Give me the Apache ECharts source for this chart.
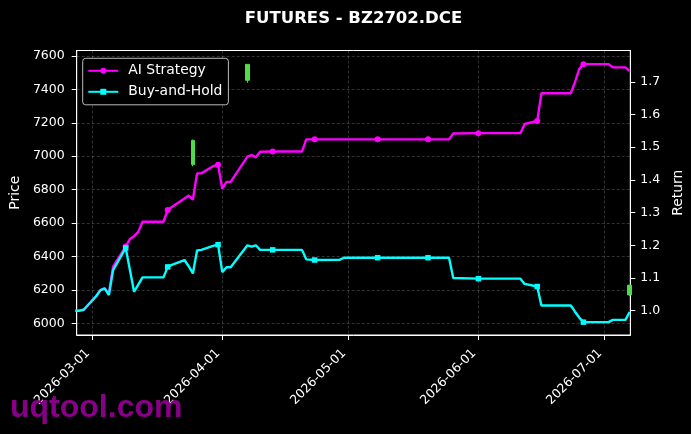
<!DOCTYPE html>
<html><head><meta charset="utf-8">
<script src="https://cdn.jsdelivr.net/npm/echarts@6/dist/echarts.min.js"></script>
<style>html,body{margin:0;padding:0;background:#000;}#c{width:691px;height:434px;}</style>
</head><body><div id="c"></div>
<script>
// ---- data ----
const dates = ['2026-02-25','2026-02-26','2026-02-27','2026-03-02','2026-03-03','2026-03-04','2026-03-05','2026-03-06',
  '2026-03-09','2026-03-10','2026-03-11','2026-03-12','2026-03-13','2026-03-18','2026-03-19','2026-03-20',
  '2026-03-23','2026-03-24','2026-03-25','2026-03-26','2026-03-27','2026-03-30','2026-03-31',
  '2026-04-01','2026-04-02','2026-04-03','2026-04-07','2026-04-08','2026-04-09','2026-04-10','2026-04-13',
  '2026-04-20','2026-04-21','2026-04-23','2026-04-29','2026-04-30','2026-05-08','2026-05-20','2026-05-25',
  '2026-05-26','2026-06-01','2026-06-11','2026-06-12','2026-06-15','2026-06-16','2026-06-23','2026-06-24',
  '2026-06-25','2026-06-26','2026-07-02','2026-07-03','2026-07-06','2026-07-07'];
const aiStrategy = [1.000,1.000,1.003,1.045,1.063,1.068,1.053,1.135,
  1.196,1.219,1.228,1.241,1.272,1.272,1.308,1.317,
  1.343,1.352,1.340,1.420,1.420,1.443,1.446,
  1.373,1.394,1.394,1.471,1.476,1.469,1.486,1.487,
  1.487,1.524,1.524,1.524,1.524,1.524,1.524,1.524,
  1.542,1.543,1.543,1.571,1.580,1.665,1.665,1.699,
  1.739,1.754,1.754,1.744,1.744,1.733];
const buyAndHold = [1.000,1.000,1.003,1.045,1.063,1.068,1.048,1.124,
  1.192,1.125,1.058,1.080,1.102,1.102,1.134,1.140,
  1.155,1.136,1.114,1.184,1.186,1.199,1.202,
  1.118,1.133,1.133,1.200,1.196,1.200,1.186,1.186,
  1.186,1.157,1.155,1.156,1.162,1.162,1.162,1.162,
  1.100,1.098,1.098,1.082,1.074,1.016,1.016,0.997,
  0.979,0.965,0.965,0.972,0.972,0.996];
const markerDates = ['2026-02-25','2026-03-09','2026-03-19','2026-03-31','2026-04-13','2026-04-23',
  '2026-05-08','2026-05-20','2026-06-01','2026-06-15','2026-06-26'];
const candleDates = ['2026-03-25','2026-04-07','2026-07-07'];
const candleOpen  = [6950, 7455, 6170];
const candleClose = [7095, 7550, 6228];
const candleLow   = [6940, 7440, 6165];
const candleHigh  = [7100, 7552, 6230];
const priceTicks = [6000,6200,6400,6600,6800,7000,7200,7400,7600];
const returnTicks = [1.0,1.1,1.2,1.3,1.4,1.5,1.6,1.7];
const monthTicks = ['2026-03-01','2026-04-01','2026-05-01','2026-06-01','2026-07-01'];

// ---- helpers ----
function ts(s){ const p = s.split('-').map(Number); return new Date(p[0], p[1]-1, p[2]).getTime(); }
function fmt(v){ const d = new Date(v); const z = n => (n<10?'0':'')+n; return d.getFullYear()+'-'+z(d.getMonth()+1)+'-'+z(d.getDate()); }
const markSet = new Set(markerDates);
function lineData(vals, sym){
  return dates.map((d,i) => ({ value: [ts(d), vals[i]], symbol: markSet.has(d) ? sym : 'none' }));
}
const candleData = candleDates.map((d,i) => [ts(d), candleOpen[i], candleClose[i], candleLow[i], candleHigh[i]]);

const FONT = 'DejaVu Sans';
const gridLine = { show: true, lineStyle: { color: 'rgba(255,255,255,0.28)', width: 0.7, type: [3, 2] } };
const chart = echarts.init(document.getElementById('c'), null, { renderer: 'canvas' });
chart.setOption({
  backgroundColor: '#000',
  animation: false,
  textStyle: { fontFamily: FONT },
  title: { text: 'FUTURES - BZ2702.DCE', left: 348.5, textAlign: 'center', top: 5,
    textStyle: { color: '#fff', fontSize: 16.5, fontWeight: 'bold', fontFamily: FONT } },
  grid: { left: 76.7, right: 60.7, top: 50.5, bottom: 99, show: true, borderColor: '#fff', borderWidth: 1,
    backgroundColor: 'transparent', containLabel: false, outerBoundsMode: 'none' },
  legend: {
    orient: 'vertical', left: 82.7, top: 58.3, padding: [5.5, 6, 6, 4.6], itemGap: 7,
    itemWidth: 30, itemHeight: 7.5,
    backgroundColor: '#000', borderColor: 'rgba(220,220,220,0.85)', borderWidth: 1, borderRadius: 3,
    textStyle: { color: '#fff', fontSize: 13.9, fontFamily: FONT, padding: [0, 0, 0, 5] },
    data: ['AI Strategy', 'Buy-and-Hold']
  },
  xAxis: {
    type: 'value', min: new Date(2026,1,25,8).getTime(), max: new Date(2026,6,7,4).getTime(),
    axisLine: { lineStyle: { color: '#fff' } },
    axisTick: { show: true, length: 5, lineStyle: { color: '#fff' }, customValues: monthTicks.map(ts) },
    axisLabel: { color: '#fff', fontSize: 12.5, fontFamily: FONT, rotate: 45, margin: 12, padding: [0, 6, 0, 0],
      customValues: monthTicks.map(ts), formatter: v => fmt(v) },
    splitLine: gridLine
  },
  yAxis: [
    { type: 'value', min: 5930, max: 7633, position: 'left',
      name: 'Price', nameLocation: 'middle', nameGap: 45, nameRotate: 90,
      nameTextStyle: { color: '#fff', fontSize: 13.9, fontFamily: FONT },
      axisLine: { show: true, lineStyle: { color: '#fff' } },
      axisTick: { show: true, length: 5, lineStyle: { color: '#fff' }, customValues: priceTicks },
      axisLabel: { color: '#fff', fontSize: 12.5, fontFamily: FONT, margin: 12, customValues: priceTicks,
        formatter: v => String(v) },
      splitLine: gridLine },
    { type: 'value', min: 0.9257, max: 1.7957, position: 'right',
      name: 'Return', nameLocation: 'middle', nameGap: 33, nameRotate: 90,
      nameTextStyle: { color: '#fff', fontSize: 13.9, fontFamily: FONT },
      axisLine: { show: true, lineStyle: { color: '#fff' } },
      axisTick: { show: true, length: 5, lineStyle: { color: '#fff' }, customValues: returnTicks },
      axisLabel: { color: '#fff', fontSize: 12.5, fontFamily: FONT, margin: 10, customValues: returnTicks,
        formatter: v => v.toFixed(1) },
      splitLine: { show: false } }
  ],
  series: [
    { name: 'Price', type: 'candlestick', yAxisIndex: 0, barWidth: 4, data: candleData,
      itemStyle: { color: '#4cdc4c', color0: '#4cdc4c', borderColor: '#4cdc4c', borderColor0: '#4cdc4c', borderWidth: 1 },
      emphasis: { disabled: true }, silent: true },
    { name: 'AI Strategy', type: 'line', yAxisIndex: 1, data: lineData(aiStrategy, 'circle'),
      symbol: 'circle', showSymbol: true, symbolSize: 6, color: '#ff00ff',
      lineStyle: { color: '#ff00ff', width: 2.4 }, itemStyle: { color: '#ff00ff' },
      emphasis: { disabled: true }, silent: true },
    { name: 'Buy-and-Hold', type: 'line', yAxisIndex: 1, data: lineData(buyAndHold, 'rect'),
      symbol: 'rect', showSymbol: true, symbolSize: 5.5, color: '#00ffff',
      lineStyle: { color: '#00ffff', width: 2.4 }, itemStyle: { color: '#00ffff' },
      emphasis: { disabled: true }, silent: true }
  ],
  graphic: [
    { type: 'text', left: 10, top: 392, z: 100,
      style: { text: 'uqtool.com', fill: '#880088', font: 'bold 32px "Liberation Sans"' } }
  ]
});
</script></body></html>
